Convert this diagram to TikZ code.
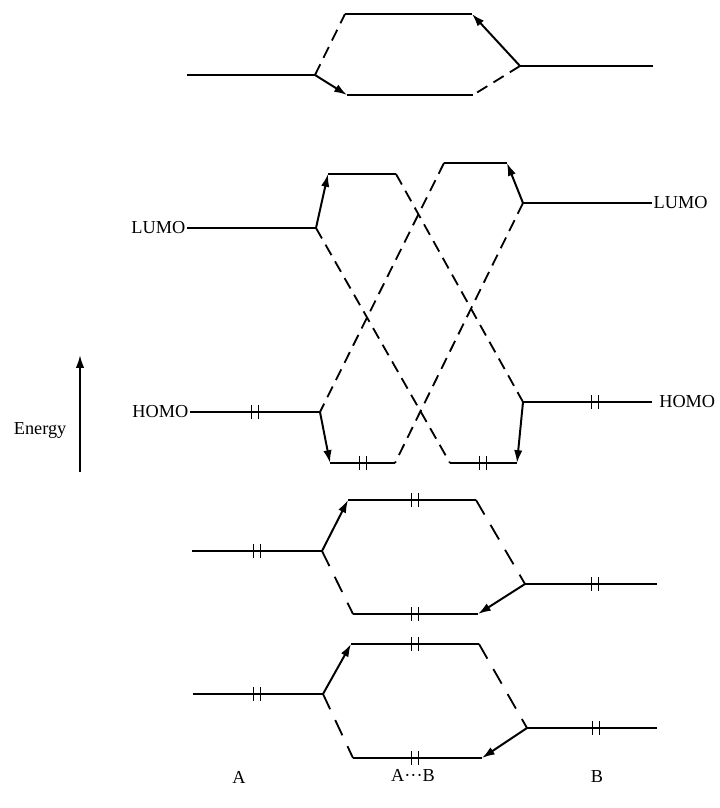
\documentclass[tikz,border=0pt]{standalone}
\usepackage{fontspec}
\setmainfont{Liberation Serif}
\usepackage{tikz}
\usetikzlibrary{arrows.meta,positioning}
\tikzset{
  molevel/.style={line width=1.7pt},
  moarr/.style={-{Latex[length=3.2mm,width=2.1mm]}, line width=1.4pt},
  modash/.style={line width=1.3pt, dash pattern=on 3mm off 1.8mm},
  modashlong/.style={line width=1.3pt, dash pattern=on 4.2mm off 3mm},
  molabel/.style={font=\fontsize{13}{15}\selectfont, inner sep=1pt},
  epair/.pic={\draw[line width=1.3pt] (-3.5,-7)--(-3.5,7) (3.5,-7)--(3.5,7);},
}
\begin{document}
\begin{tikzpicture}[x=0.025cm, y=-0.025cm]
    \useasboundingbox (0,0) rectangle (719,808);
    % top pair
    \coordinate (ta1) at (187,75);  \coordinate (ta2) at (315,75);
    \coordinate (tu1) at (345,14);  \coordinate (tu2) at (472,14);
    \coordinate (tl1) at (347,95);  \coordinate (tl2) at (473,95);
    \coordinate (tb1) at (520,66);  \coordinate (tb2) at (653,66);
    \draw[molevel] (ta1)--(ta2) (tu1)--(tu2) (tl1)--(tl2) (tb1)--(tb2);
    \draw[modash] (ta2)--(tu1);
    \draw[moarr] (ta2)--(tl1);
    \draw[moarr] (tb1)--(tu2);
    \draw[modash] (tb1)--(tl2);
    % frontier orbitals
    \coordinate (lumoA1) at (187,228); \coordinate (lumoA2) at (316,228);
    \coordinate (lumoB1) at (523,203); \coordinate (lumoB2) at (652,203);
    \coordinate (homoA1) at (190,412); \coordinate (homoA2) at (320,412);
    \coordinate (homoB1) at (523,402); \coordinate (homoB2) at (652,402);
    \coordinate (upA1) at (328,174);   \coordinate (upA2) at (396,174);
    \coordinate (upB1) at (444,163);   \coordinate (upB2) at (507,163);
    \coordinate (loA1) at (330,463);   \coordinate (loA2) at (395,463);
    \coordinate (loB1) at (450,463);   \coordinate (loB2) at (517,463);
    \draw[molevel] (lumoA1)--(lumoA2) (lumoB1)--(lumoB2) (homoA1)--(homoA2) (homoB1)--(homoB2);
    \draw[molevel] (upA1)--(upA2) (upB1)--(upB2) (loA1)--(loA2) (loB1)--(loB2);
    \node[molabel, anchor=east] (lumoAl) at (lumoA1) {LUMO};
    \node[molabel, anchor=west] (lumoBl) at (lumoB2) {LUMO};
    \node[molabel, anchor=east] (homoAl) at (homoA1) {HOMO};
    \node[molabel, anchor=west] (homoBl) at ([xshift=4]homoB2) {HOMO};
    \draw[moarr] (lumoA2)--(upA1);
    \draw[moarr] (lumoB1)--(upB2);
    \draw[moarr] (homoA2)--(loA1);
    \draw[moarr] (homoB1)--(loB2);
    \draw[modash] (upA2)--(homoB1);
    \draw[modash] (lumoA2)--(loB1);
    \draw[modash] (upB1)--(homoA2);
    \draw[modash] (lumoB1)--(loA2);
    \pic at (255,412) {epair};
    \pic at (363,463) {epair};
    \pic at (483,463) {epair};
    \pic at (595,402) {epair};
    % first filled pair
    \coordinate (pa1) at (192,551); \coordinate (pa2) at (322,551);
    \coordinate (pu1) at (348,500); \coordinate (pu2) at (476,500);
    \coordinate (pl1) at (353,614); \coordinate (pl2) at (478,614);
    \coordinate (pb1) at (525,584); \coordinate (pb2) at (657,584);
    \draw[molevel] (pa1)--(pa2) (pu1)--(pu2) (pl1)--(pl2) (pb1)--(pb2);
    \draw[moarr] (pa2)--(pu1);
    \draw[modashlong] (pa2)--(pl1);
    \draw[modashlong] (pu2)--(pb1);
    \draw[moarr] (pb1)--(pl2);
    \pic at (257,551) {epair};
    \pic at (415,500) {epair};
    \pic at (415,614) {epair};
    \pic at (595,584) {epair};
    % second filled pair
    \coordinate (qa1) at (193,694); \coordinate (qa2) at (323,694);
    \coordinate (qu1) at (351,644); \coordinate (qu2) at (479,644);
    \coordinate (ql1) at (353,758); \coordinate (ql2) at (482,758);
    \coordinate (qb1) at (527,728); \coordinate (qb2) at (657,728);
    \draw[molevel] (qa1)--(qa2) (qu1)--(qu2) (ql1)--(ql2) (qb1)--(qb2);
    \draw[moarr] (qa2)--(qu1);
    \draw[modashlong] (qa2)--(ql1);
    \draw[modashlong] (qu2)--(qb1);
    \draw[moarr] (qb1)--(ql2);
    \pic at (257,694) {epair};
    \pic at (415,644) {epair};
    \pic at (415,758) {epair};
    \pic at (596,728) {epair};
    % axis and labels
    \coordinate (en1) at (80,472); \coordinate (en2) at (80,355);
    \draw[moarr] (en1)--(en2);
    \node[molabel, anchor=east] (energy) at (68,430) {Energy};
    \node[molabel] (labA) at (239,777) {A};
    \node[molabel] (labAB) at (413,775) {A···B};
    \node[molabel] (labB) at (597,777) {B};
\end{tikzpicture}
\end{document}
